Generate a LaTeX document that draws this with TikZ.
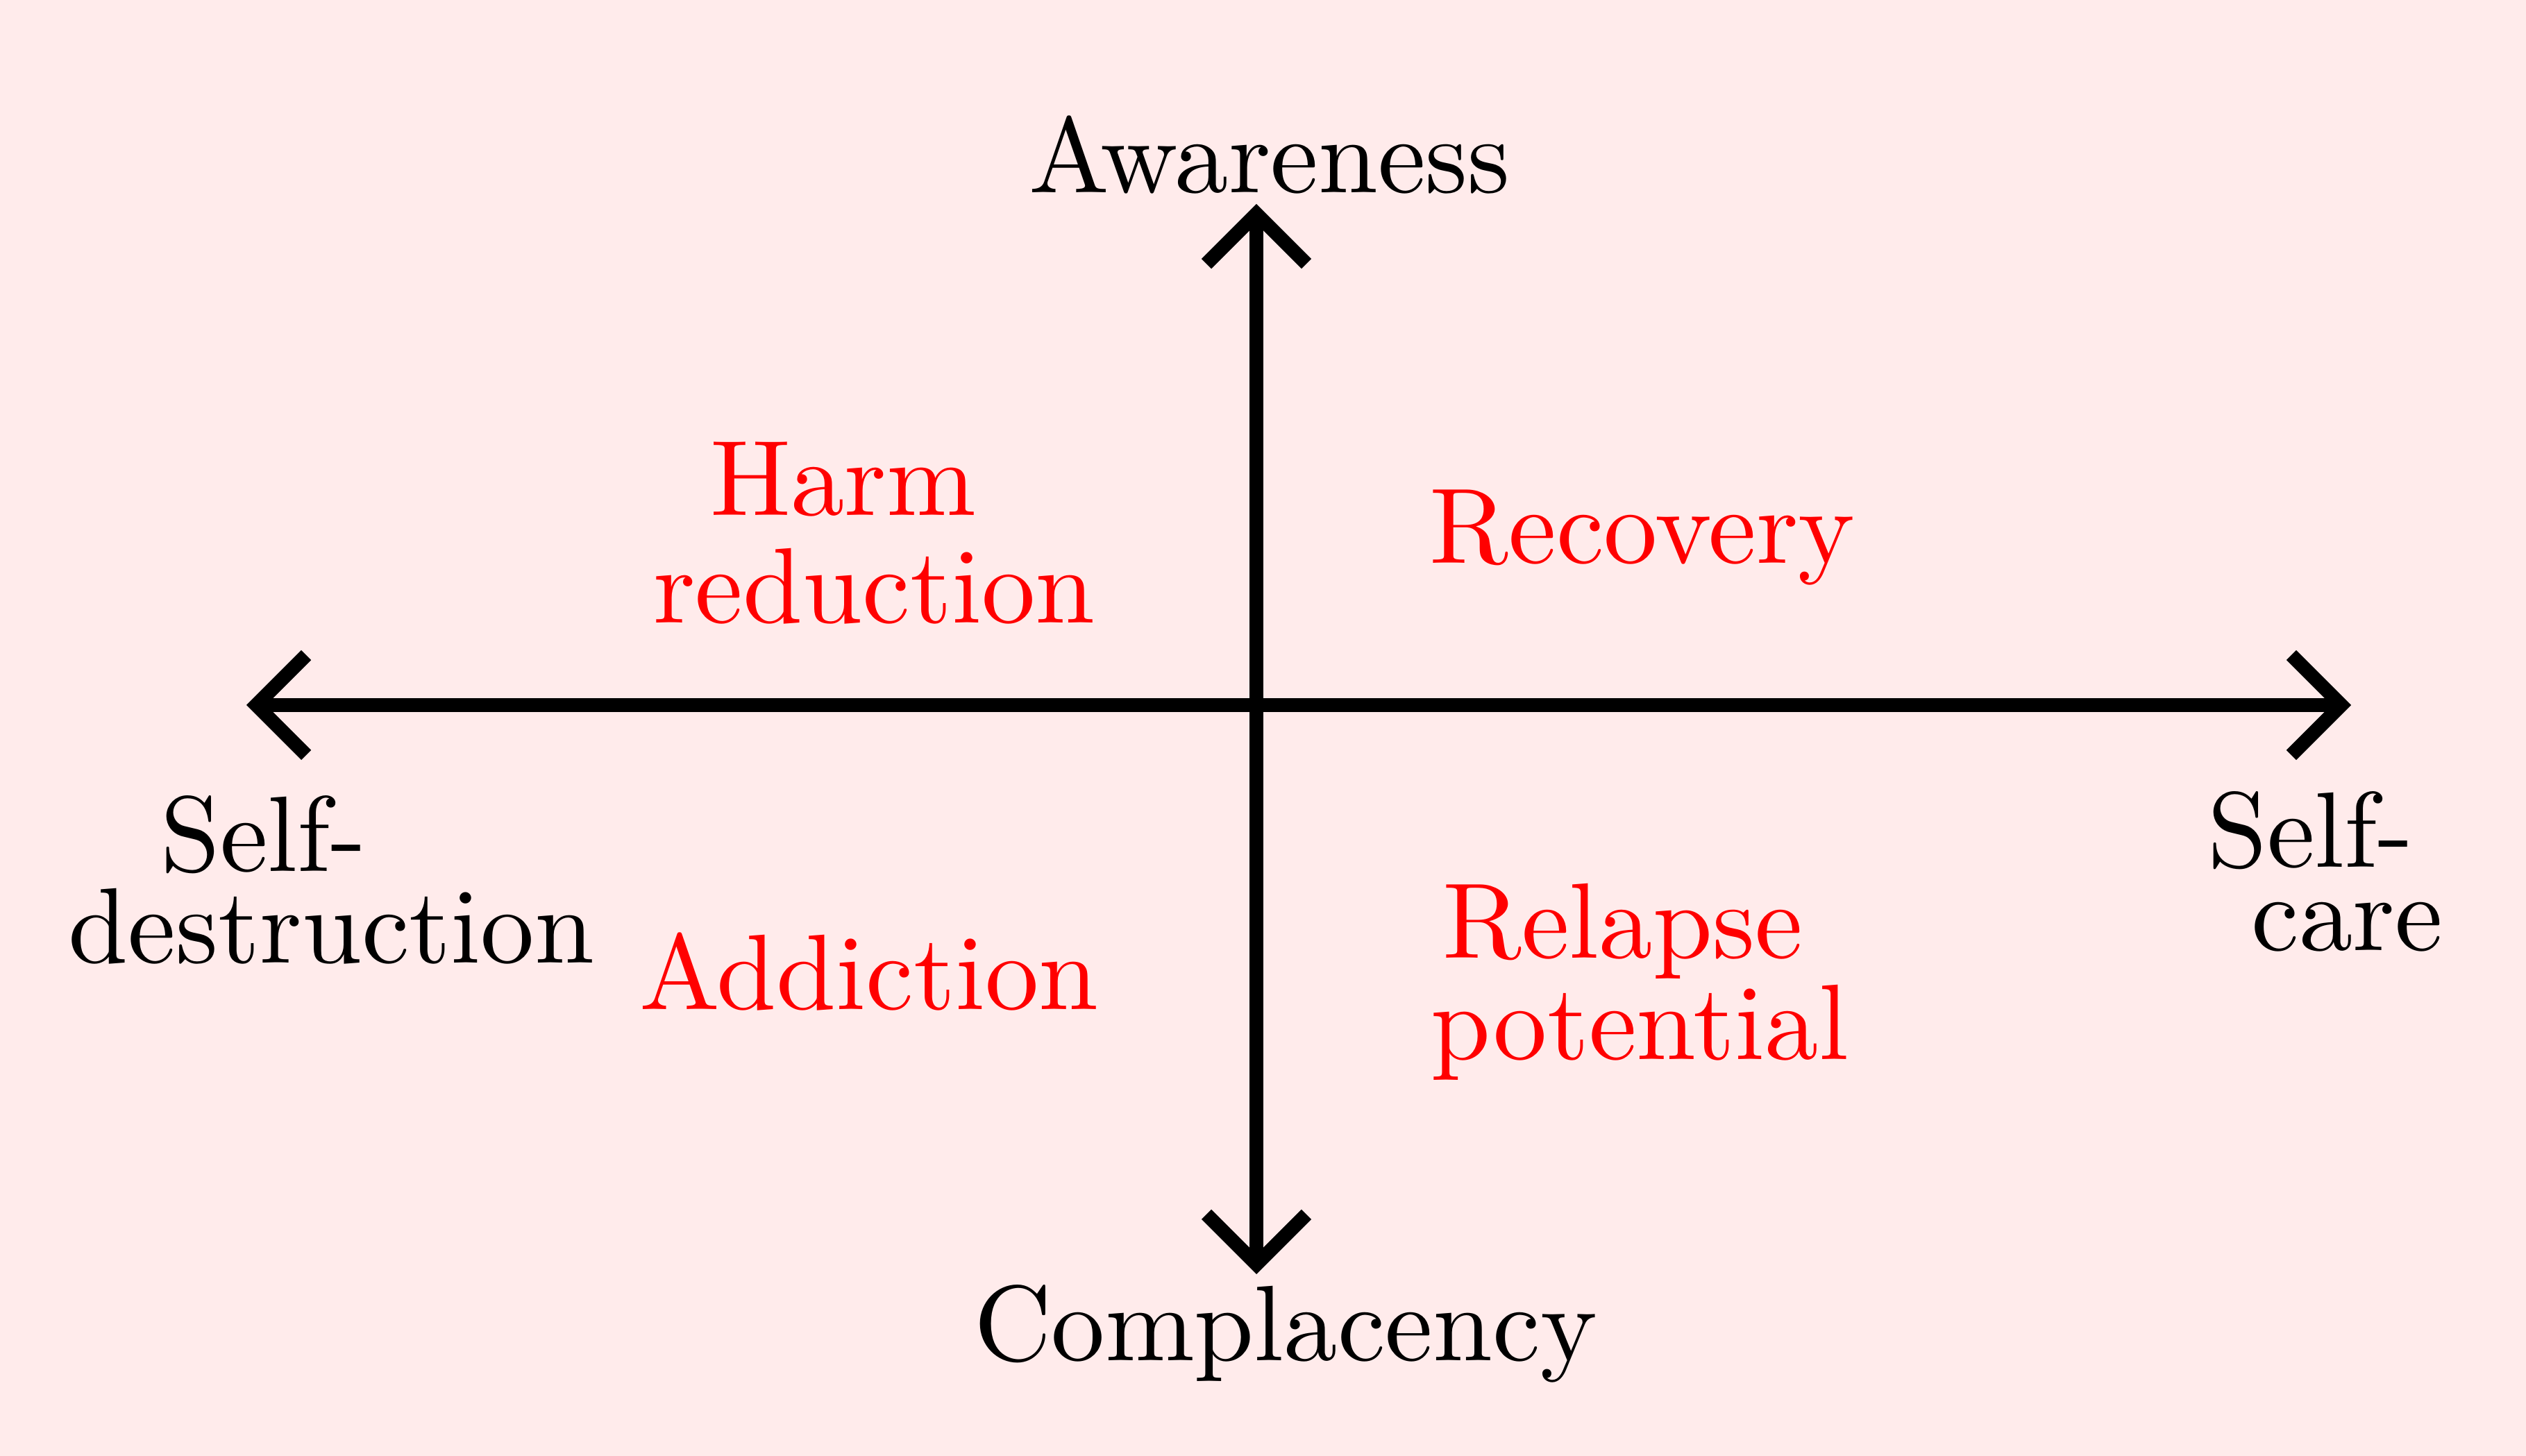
\documentclass[tikz,border=0pt]{standalone}
\usepackage{fontspec}
\setmainfont{lmroman10-regular.otf}
\usetikzlibrary{arrows.meta}
\begin{document}
\begin{tikzpicture}
\tikzstyle{axis}=[line width=0.1cm,{Straight Barb[length=0.36cm,width=0.72cm]}-{Straight Barb[length=0.36cm,width=0.72cm]}]
\tikzstyle{pole}=[anchor=base,inner sep=0pt,font=\fontsize{22}{22}\selectfont]
\tikzstyle{quad}=[pole,text=red]
% background
\fill[red!8] (0,0) rectangle (18.195,10.49);
\useasboundingbox (0,0) rectangle (18.195,10.49);
% axes
\coordinate (xleft) at (1.775,5.41);
\coordinate (xright) at (16.935,5.41);
\coordinate (ytop) at (9.05,9.02);
\coordinate (ybot) at (9.05,1.31);
\draw[axis] (xleft) -- (xright);
\draw[axis] (ybot) -- (ytop);
% poles
\node [pole] (aware) at (9.145,9.10) {Awareness};
\node [pole] (compl) at (9.26,0.685) {Complacency};
\node [pole,align=center,font=\fontsize{22}{18.8}\selectfont] (destr) at (1.8975,3.55) {Self-\\\hspace*{0.98cm}destruction};
\node [pole,align=center,font=\fontsize{22}{17.2}\selectfont] (care) at (16.6425,3.64) {Self-\\\hspace*{0.53cm}care};
% quadrants
\node [quad,align=center,font=\fontsize{22}{22.05}\selectfont] (harm) at (6.075,6.0015) {Harm\\\hspace*{0.445cm}reduction};
\node [quad] (recov) at (11.83,6.43) {Recovery};
\node [quad] (addic) at (6.26,3.215) {Addiction};
\node [quad,align=center,font=\fontsize{22}{20.9}\selectfont] (relap) at (11.6875,2.855) {Relapse\\\hspace*{0.247cm}potential};
\end{tikzpicture}
\end{document}
